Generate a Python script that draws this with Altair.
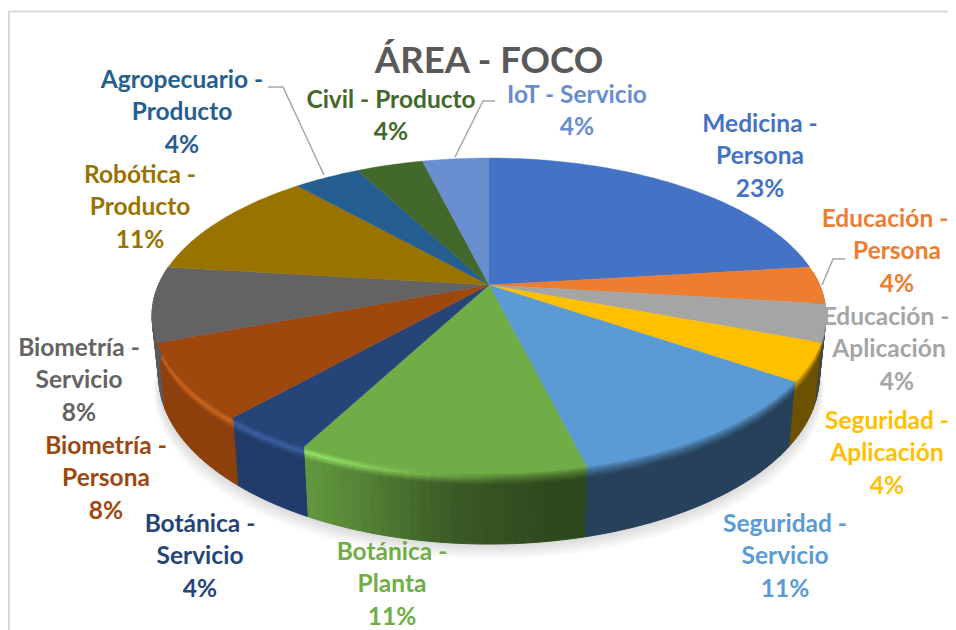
import numpy as np
import pandas as pd
import altair as alt

# ---- chart values -------------------------------------------------------
NAMES = [
    ["Medicina -", "Persona"], ["Educación -", "Persona"], ["Educación -", "Aplicación"],
    ["Seguridad -", "Aplicación"], ["Seguridad -", "Servicio"], ["Botánica -", "Planta"],
    ["Botánica -", "Servicio"], ["Biometría -", "Persona"], ["Biometría -", "Servicio"],
    ["Robótica -", "Producto"], ["Agropecuario -", "Producto"], ["Civil - Producto"],
    ["IoT - Servicio"],
]
COUNTS = [6, 1, 1, 1, 3, 3, 1, 2, 2, 3, 1, 1, 1]
PCT_LABELS = ["23%", "4%", "4%", "4%", "11%", "11%", "4%", "8%", "8%", "11%", "4%", "4%", "4%"]
COLORS = ["#4472C4", "#ED7D31", "#A5A5A5", "#FFC000", "#5B9BD5", "#70AD47", "#264478",
          "#9E480E", "#636363", "#997300", "#255E91", "#43682B", "#698ED0"]
TITLE = "ÁREA - FOCO"

# ---- layout (reference pixels) ------------------------------------------
W, H = 940, 622
OX, OY = 8, 8
APEX_X, APEX_Y = 489.0, 285.0
PERSP, RY, RX = 0.1937, 151.6, 330.6
BOT_SX, BOT_OFF, BOT_SY = 0.98, 344.0, 1.064
LABEL_POS = [(760, 124.5), (897, 219.5), (897, 317.5), (887, 421.5), (785, 524.5), (392, 552.5),
             (200, 524.5), (106, 446.5), (79, 348.5), (140, 175.5), (182, 80.5), (391, 100.5), (577, 95.5)]
# lines nudged left so that they stay inside the page
LINE_X = {(1, 0): 885, (2, 0): 886, (2, 1): 889}
LINE_STEP = 32.5
LEADERS = {
    "a": [(268, 87), (283, 87), (324, 175)],
    "b": [(495, 101), (483, 101), (455, 157)],
    "c": [(845, 259), (833, 259), (822, 285)],
}


def top_pt(deg):
    r = np.radians(deg)
    X, Y = np.sin(r), -np.cos(r)
    w = 1 - PERSP * Y
    return APEX_X + RX * X / w, APEX_Y + RY * Y / w


def bot_pt(deg):
    x, y = top_pt(deg)
    return APEX_X + (x - APEX_X) * BOT_SX, BOT_OFF + BOT_SY * (y - APEX_Y)


def rgb(c):
    return np.array([int(c[i:i + 2], 16) for i in (1, 3, 5)], float)


def hexc(a):
    return "#%02x%02x%02x" % tuple(int(round(v)) for v in np.clip(a, 0, 255))


def poly(pts, fill, **extra):
    ring = [[round(float(x), 2), round(float(y), 2)] for x, y in pts]
    ring.append(ring[0])
    return {"type": "Feature", "geometry": {"type": "Polygon", "coordinates": [ring]},
            "properties": {"fill": fill, **extra}}


edges = np.cumsum([0] + COUNTS) / sum(COUNTS) * 360.0

# shadow under the pie
shadow = []
circle = np.arange(0, 360, 3.0)
for k in range(1, 10):
    pts = []
    for d in circle:
        x, y = bot_pt(d)
        pts.append((APEX_X + (x - APEX_X) * (1 + 0.0016 * k), y + 1.7 * k))
    shadow.append(poly(pts, "#000000"))
shadow.reverse()

# wall and bevel strips
BANDS = [0, 2, 4, 6, 8, 10, 12]
wall = []
for i, col in enumerate(COLORS):
    a, b = max(edges[i], 85), min(edges[i + 1], 277)
    if b <= a:
        continue
    n = int(np.ceil((b - a) / 1.5))
    th = np.linspace(a, b, n + 1)
    base = rgb(col)
    for d0, d1 in zip(th[:-1], th[1:]):
        mid = (d0 + d1) / 2
        f = np.interp(mid, [90, 172, 185, 200, 208, 270], [0.42, 0.42, 0.52, 0.78, 0.88, 0.9])
        h = np.interp(mid, [178, 205, 260, 277], [0, 1, 1, 0.6])
        wall_c = base * f
        hi = np.minimum(base * 1.22 + 12, 255)
        mid_c = h * hi + (1 - h) * (base + wall_c) / 2
        t0, b0, t1, b1 = top_pt(d0), bot_pt(d0), top_pt(d1), bot_pt(d1)
        depth = np.hypot(b0[0] - t0[0], b0[1] - t0[1])
        fr = [min(t / depth, 1) for t in BANDS] + [1.0]
        for u, v in zip(fr[:-1], fr[1:]):
            tc = (u + v) / 2 * depth
            if tc < 5:
                c = base + (mid_c - base) * tc / 5
            elif tc < 12:
                c = mid_c + (wall_c - mid_c) * (tc - 5) / 7
            else:
                c = wall_c
            p = lambda A, B, s: (A[0] + (B[0] - A[0]) * s, A[1] + (B[1] - A[1]) * s)
            wall.append(poly([p(t0, b0, u), p(t1, b1, u), p(t1, b1, v), p(t0, b0, v)], hexc(c)))

# top face
faces = []
for i, col in enumerate(COLORS):
    th = np.arange(edges[i], edges[i + 1], 1.0).tolist() + [edges[i + 1]]
    faces.append(poly([(APEX_X, APEX_Y)] + [top_pt(d) for d in th], col))

# text rows
rows = []
for i, lines in enumerate(NAMES):
    x0, y0 = LABEL_POS[i]
    for j, s in enumerate(list(lines) + [PCT_LABELS[i]]):
        rows.append({"x": LINE_X.get((i, j), x0), "y": y0 + j * LINE_STEP, "t": s, "c": COLORS[i]})
labels_df = pd.DataFrame(rows)

lead_df = pd.DataFrame([{"k": k, "o": n, "x": p[0], "y": p[1]}
                        for k, pts in LEADERS.items() for n, p in enumerate(pts)])
frame_df = pd.DataFrame([{"k": "t", "o": 0, "x": 9, "y": 630}, {"k": "t", "o": 1, "x": 9, "y": 11.5},
                         {"k": "t", "o": 2, "x": 956, "y": 11.5}])

SX = alt.Scale(domain=[OX, OX + W], range=[0, W])
SY = alt.Scale(domain=[OY, OY + H], range=[0, H])
xe = alt.X("x:Q", scale=SX, axis=None)
ye = alt.Y("y:Q", scale=SY, axis=None)
PROJ = dict(type="identity", scale=1, translate=[-OX, -OY])

shadow_l = alt.Chart(alt.Data(values=shadow)).mark_geoshape(fill="#000000", fillOpacity=0.017, strokeWidth=0).project(**PROJ)


def shape_layer(feats, sw):
    return (alt.Chart(alt.Data(values=feats)).mark_geoshape(strokeWidth=sw)
            .encode(fill=alt.Fill("properties.fill:N", scale=None, legend=None),
                    stroke=alt.Stroke("properties.fill:N", scale=None, legend=None))
            .project(**PROJ))


frame_l = alt.Chart(frame_df).mark_line(color="#d9d9d9", strokeWidth=2, clip=True).encode(
    x=xe, y=ye, detail="k:N", order="o:Q")
lead_l = alt.Chart(lead_df).mark_line(color="#a6a6a6", strokeWidth=1.5).encode(
    x=xe, y=ye, detail="k:N", order="o:Q")
text_l = alt.Chart(labels_df).mark_text(font="Lato", fontWeight="bold", fontSize=24.5,
                                        align="center", baseline="middle").encode(
    x=xe, y=ye, text="t:N", color=alt.Color("c:N", scale=None, legend=None))

chart = (alt.layer(frame_l, shadow_l, shape_layer(wall, 1.0), shape_layer(faces, 0.4), lead_l, text_l)
         .properties(width=W, height=H, padding=0, autosize=alt.AutoSizeParams(type="none"),
                     background="white",
                     title=alt.TitleParams(TITLE, font="Lato", fontWeight="bold", fontSize=36.5,
                                           color="#595959", anchor="middle", frame="group",
                                           orient="top", offset=0, dx=11, dy=101, baseline="alphabetic"))
         .configure_view(stroke=None))

chart.save("out.html", embed_options={"renderer": "svg", "actions": False})
